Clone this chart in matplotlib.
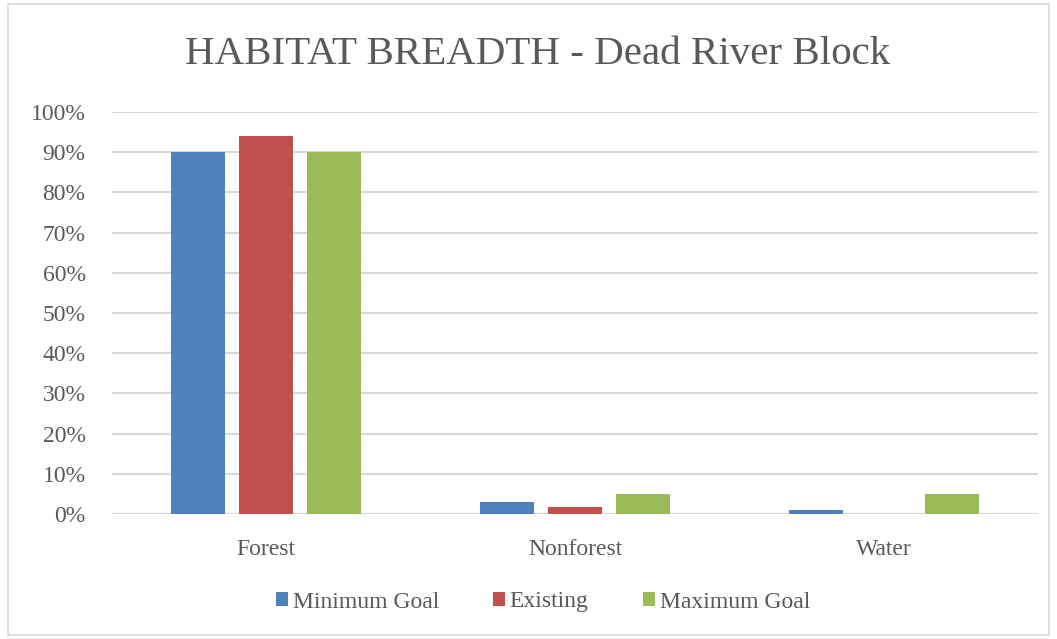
import matplotlib.pyplot as plt
import numpy as np
from matplotlib.patches import Rectangle
from matplotlib.ticker import PercentFormatter

plt.rcParams.update({
    'font.family': ['Liberation Serif', 'DejaVu Serif'],
    'text.color': '#595959',
    'xtick.color': '#595959',
    'ytick.color': '#595959',
})

categories = ['Forest', 'Nonforest', 'Water']
series = ['Minimum Goal', 'Existing', 'Maximum Goal']
minimum_goal = [90, 3, 1]
existing = [94, 1.7, 0]
maximum_goal = [90, 5, 5]
colors = ['#4f81bd', '#c0504d', '#9bbb59']

fig = plt.figure(figsize=(10.57, 6.39), dpi=100)
ax = fig.add_axes([112 / 1057, 1 - 514 / 639, 926 / 1057, 402 / 639])

x = np.arange(len(categories))
w = 0.175
step = 0.22
for i, (vals, lab, col) in enumerate(zip([minimum_goal, existing, maximum_goal], series, colors)):
    ax.bar(x + (i - 1) * step, vals, w, color=col, label=lab, zorder=3)

ax.set_xlim(-0.5, 2.5)
ax.set_ylim(0, 100)
ax.set_yticks(np.arange(0, 101, 10))
ax.yaxis.set_major_formatter(PercentFormatter(decimals=0))
ax.set_xticks(x)
ax.set_xticklabels(categories)
ax.grid(axis='y', color='#d9d9d9', linewidth=1.5, zorder=0)
for s in ax.spines.values():
    s.set_visible(False)
ax.axhline(0, color='#d9d9d9', linewidth=1.5, zorder=2)
ax.tick_params(axis='both', length=0, labelsize=17)
ax.tick_params(axis='y', pad=19)
ax.tick_params(axis='x', pad=18)

fig.text(538 / 1057, 1 - 54 / 639, 'HABITAT BREADTH - Dead River Block',
         ha='center', va='center', fontsize=29.5)

fig.legend(loc='center', bbox_to_anchor=(543 / 1057, 1 - 602 / 639), ncol=3,
           frameon=False, fontsize=17, handlelength=0.5, handleheight=0.5,
           handletextpad=0.2, columnspacing=2.3)

fig.patches.append(Rectangle((8 / 1057, 4 / 639), 1041 / 1057, 631 / 639,
                             transform=fig.transFigure, fill=False,
                             edgecolor='#d9d9d9', linewidth=1.2))

fig.savefig('out.png', dpi=100)
